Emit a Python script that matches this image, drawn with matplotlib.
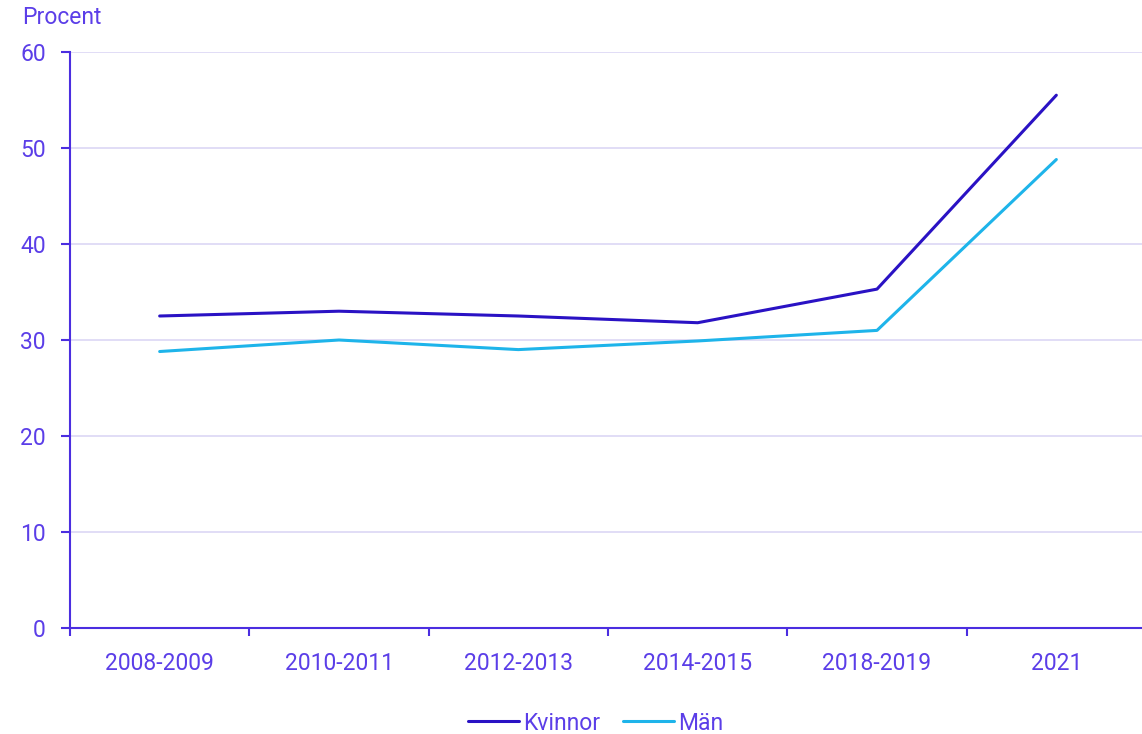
import matplotlib
matplotlib.use("Agg")
import numpy as np
import matplotlib.pyplot as plt
from matplotlib.ticker import FixedLocator

periods = ["2008-2009", "2010-2011", "2012-2013", "2014-2015", "2018-2019", "2021"]
kvinnor = [32.5, 33.0, 32.5, 31.8, 35.3, 55.5]
man = [28.8, 30.0, 29.0, 29.9, 31.0, 48.8]

text_col = "#5b3ee8"
axis_col = "#4b2ee0"
grid_col = "#dedaf6"
kv_col = "#2a12c4"
man_col = "#1eb4ea"

plt.rcParams["font.family"] = ["Roboto", "DejaVu Sans"]
plt.rcParams["font.size"] = 16.5

fig = plt.figure(figsize=(11.42, 7.34), dpi=100)
ax = fig.add_axes([70 / 1142, 106 / 734, 1076 / 1142, 576 / 734])

x = np.arange(len(periods))
ax.plot(x, kvinnor, color=kv_col, lw=2.2, label="Kvinnor", solid_capstyle="round")
ax.plot(x, man, color=man_col, lw=2.2, label="Män", solid_capstyle="round")

ax.set_xlim(-0.5, len(periods) - 0.5)
ax.set_ylim(0, 60)
ax.set_yticks(range(0, 61, 10))
ax.set_xticks(x)
ax.set_xticklabels(periods)
ax.xaxis.set_minor_locator(FixedLocator(np.arange(-0.5, len(periods), 1.0)))

ax.grid(axis="y", color=grid_col, lw=1.3)
ax.set_axisbelow(True)
for s in ["top", "right"]:
    ax.spines[s].set_visible(False)
for s in ["left", "bottom"]:
    ax.spines[s].set_color(axis_col)
    ax.spines[s].set_linewidth(1.5)

ax.tick_params(axis="y", colors=axis_col, labelcolor=text_col, length=6.5, width=1.5, pad=11)
ax.tick_params(axis="x", which="major", length=0, labelcolor=text_col, pad=17)
ax.tick_params(axis="x", which="minor", colors=axis_col, length=6, width=1.5)

fig.text(22 / 1142, 1 - 18 / 734, "Procent", color=text_col, fontsize=16.5, va="center", ha="left")

leg = fig.legend(loc="center", bbox_to_anchor=(596 / 1142, 1 - 723 / 734), ncol=2, frameon=False,
                 handlelength=2.2, handletextpad=0.2, columnspacing=1.0, fontsize=16.5)
for t in leg.get_texts():
    t.set_color(text_col)

fig.savefig("out.png", dpi=100)
plt.close()
